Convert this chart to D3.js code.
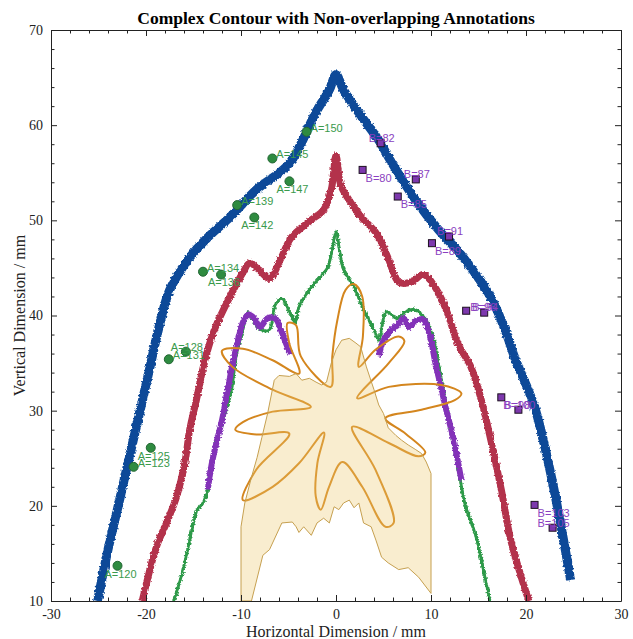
<!DOCTYPE html>
<html>
<head>
<meta charset="utf-8">
<style>
    body { margin: 0; background: #fff; }
    svg { display: block; }
    .tick text { font-family: "Liberation Serif", "Times New Roman", serif; font-size: 14px; fill: #222; }
    .axis path, .axis line { stroke: #222; }
</style>
</head>
<body>
<div id="chart"></div>
<script src="https://cdn.jsdelivr.net/npm/d3@7/dist/d3.min.js"></script>
<script>
    /* -----------------------------------
        data
    ----------------------------------- */
    var xTicks = [-30, -20, -10, 0, 10, 20, 30];
    var yTicks = [10, 20, 30, 40, 50, 60, 70];

    var blueLine = [[-25.1,10],[-24.8,11.5],[-24.0,15.4],[-22.9,20.1],[-21.9,24.5],[-20.6,30.1],[-19.6,34.5],
        [-18.7,38.5],[-17.5,42.7],[-15.4,46.1],[-13.3,48.4],[-11.2,50.3],[-8.4,53.2],[-4.9,56.0],[-2.1,61.4],
        [-0.7,63.7],[0,65.3],[0.8,63.7],[2.4,61.3],[4.5,58.4],[5.9,56.0],[8.4,52.1],[10.8,49.0],[12.9,46.7],
        [14.8,44.2],[16.3,41.9],[17.8,38.5],[18.8,35.6],[20.9,30.4],[22.6,23.4],[23.9,16.7],[24.7,12.2]];

    var redLine = [[-20.4,10],[-18.9,15.7],[-17.8,18.3],[-16.8,20.9],[-15.9,24.6],[-15.4,28.0],[-14.7,31.1],
        [-13.8,35.3],[-12.8,38.5],[-11.2,41.9],[-9.8,44.5],[-9.1,45.5],[-8.1,44.8],[-7.0,43.9],[-5.8,46.0],
        [-4.7,48.2],[-2.8,49.9],[-1.3,51.1],[-0.5,53.2],[0,56.8],[0.5,53.7],[1.4,52.1],[2.7,50.3],[4.2,48.7],
        [5.5,46.0],[6.6,43.5],[7.9,43.5],[9.2,44.3],[10.6,42.7],[11.6,40.6],[12.9,36.9],[14.2,34.6],
        [15.3,31.1],[16.3,26.9],[17.4,21.7],[18.4,16.4],[20.3,10]];

    var greenLine = [[-17.1,10],[-16.4,12.2],[-15.7,15.0],[-15.1,17.8],[-14.6,19.6],[-14.0,20.3],[-13.5,21.7],
        [-13.0,25.1],[-12.5,27.2],[-11.7,29.7],[-11.0,32.2],[-10.5,35.8],[-9.8,38.5],[-9.3,40.3],[-8.6,39.3],
        [-7.9,38.5],[-7.0,38.5],[-6.4,41.1],[-5.7,41.8],[-4.9,40.4],[-4.3,39.3],[-3.9,40.9],[-2.8,42.7],
        [-1.8,43.9],[-0.9,45.0],[-0.4,46.9],[0,48.8],[0.4,46.7],[0.8,44.8],[1.9,43.0],[2.9,40.6],[4.0,38.5],
        [4.5,37.4],[5.3,40.4],[6.4,39.7],[7.3,40.4],[8.4,40.6],[9.3,39.8],[10.3,37.4],[10.8,34.8],[11.3,32.2],
        [12.0,28.5],[12.9,23.8],[13.6,20.1],[14.7,16.9],[15.3,14.3],[16.2,10]];

    var purpleLeft = [[-13.5,21.7],[-13.1,24.3],[-12.6,26.6],[-12.0,29.0],[-11.4,32.2],[-10.8,35.3],[-10.2,37.9],
        [-9.7,39.5],[-9.2,40.1],[-8.6,39.7],[-8.0,38.8],[-7.2,39.7],[-6.4,39.7],[-5.8,38.5],[-5.2,36.9],[-4.8,35.9]];
    var purpleRight = [[4.5,35.7],[5.0,37.4],[5.8,38.5],[6.5,39.0],[7.1,39.7],[7.7,38.8],[8.5,39.5],[9.2,39.6],
        [9.7,38.5],[10.1,36.9],[10.5,34.8],[11.0,32.7],[11.6,30.1],[12.4,26.9],[12.9,24.3],[13.2,22.7]];

    var roseCurve = [[-0.55,32.5],[-0.39,35.7],[0.14,39.5],[1.01,42.7],[1.88,43.3],[2.76,42.0],[2.83,37.8],
        [2.41,34.6],[4.15,36.4],[6.6,37.8],[7.2,37.3],[5.55,35.0],[2.23,31.3],[5.55,32.5],[11.1,32.7],
        [13.2,31.8],[12.5,31.1],[9.0,30.1],[5.2,29.2],[7.3,27.6],[9.4,25.6],[8.7,25.2],[5.55,26.6],[1.7,28.3],
        [4.15,23.8],[6.07,18.2],[5.2,17.8],[2.76,22.0],[0.66,24.6],[-0.73,22.0],[-1.6,19.6],[-2.13,21.0],
        [-1.96,24.5],[-1.26,27.7],[-3.87,24.5],[-6.67,22.0],[-9.8,20.6],[-8.4,23.8],[-4.92,27.6],[-8.4,27.5],
        [-10.6,28.0],[-9.8,28.8],[-6.67,29.9],[-2.65,30.4],[-6.67,32.2],[-10.9,34.6],[-12.0,36.3],[-9.8,36.5],
        [-6.67,35.3],[-3.87,33.9],[-4.92,37.1],[-5.1,39.2],[-4.22,39.0],[-3.7,35.7]];

    var fillShape = [[-10,10],[-10,17.8],[-9.6,20.3],[-8.9,23.0],[-8.3,25.1],[-7.8,27.2],[-7.2,29.7],[-6.5,33.2],
        [-6.0,33.7],[-4.9,33.6],[-4.2,33.9],[-3.6,33.2],[-2.8,33.4],[-2.1,33.0],[-1.5,32.7],[-1.0,33.0],
        [-0.5,35.0],[0,36.4],[0.6,37.4],[1.4,37.6],[2.1,37.1],[2.6,36.7],[3.2,34.6],[4.0,32.2],[4.5,30.6],
        [5.0,29.7],[5.5,28.2],[6.3,27.4],[6.9,26.9],[7.6,26.4],[8.4,25.9],[9.0,25.5],[9.5,24.6],[10,23.4],
        [10,10.8],[8.7,12.5],[7.6,13.5],[6.6,13.3],[5.5,14.0],[4.8,14.6],[4.2,16.4],[3.7,17.8],[2.9,18.2],
        [2.4,20.3],[1.9,19.8],[1.4,20.6],[0.8,20.3],[0.3,19.6],[-0.2,19.9],[-0.7,18.2],[-1.3,18.7],[-2.0,18.2],
        [-2.6,16.9],[-3.4,17.8],[-3.9,17.2],[-4.2,17.8],[-4.6,18.3],[-5.7,18.2],[-7.0,15.4],[-7.7,14.8],[-8.9,10]];

    var aValues = [120, 123, 125, 128, 131, 134, 136, 139, 142, 145, 147, 150];
    var aX = [-23.0, -21.3, -19.5, -15.8, -17.6, -14.0, -12.1, -10.4, -8.6, -6.7, -4.9, -3.1];
    var aY = [13.7, 24.1, 26.1, 36.2, 35.4, 44.6, 44.3, 51.6, 50.3, 56.5, 54.1, 59.3];
    var aSide = ["b", "r", "b", "c", "r", "r", "b", "r", "b", "r", "b", "r"];

    var bValues = [80, 82, 85, 87, 89, 91, 94, 96, 98, 100, 103, 105];
    var bX = [2.8, 4.7, 6.5, 8.4, 10.1, 11.9, 15.6, 13.7, 17.4, 19.2, 20.9, 22.8];
    var bY = [55.3, 58.1, 52.5, 54.3, 47.6, 48.3, 40.3, 40.5, 31.4, 30.1, 20.1, 17.7];
    var bSide = ["rb", "c", "rb", "c", "rb", "c", "c", "r", "rb", "c", "rb", "c"];

    /* -----------------------------------
        initialize
    ----------------------------------- */
    var width = 633, height = 639;
    var margin = {top: 30, right: 12, bottom: 38, left: 51},
        cWidth = width - margin.left - margin.right,
        cHeight = height - margin.top - margin.bottom;

    var svg = d3.select("#chart").append("svg")
        .attr("width", width)
        .attr("height", height);

    var defs = svg.append("defs");
    defs.append("clipPath").attr("id", "plotClip")
        .append("rect").attr("width", cWidth).attr("height", cHeight);

    // rough edges like the noisy contours
    function roughFilter(id, seed, amount) {
        var f = defs.append("filter").attr("id", id)
            .attr("filterUnits", "userSpaceOnUse")
            .attr("x", -20).attr("y", -20).attr("width", cWidth + 40).attr("height", cHeight + 40);
        f.append("feTurbulence").attr("type", "fractalNoise")
            .attr("baseFrequency", "0.45").attr("numOctaves", 2).attr("seed", seed).attr("result", "noise");
        f.append("feDisplacementMap").attr("in", "SourceGraphic").attr("in2", "noise")
            .attr("scale", amount).attr("xChannelSelector", "R").attr("yChannelSelector", "G");
    }
    roughFilter("rough", 4, 3.5);
    roughFilter("rough2", 11, 5);

    var g = svg.append("g")
        .attr("transform", "translate(" + margin.left + "," + margin.top + ")");

    var x = d3.scaleLinear().domain([-30, 30]).range([0, cWidth]);
    var y = d3.scaleLinear().domain([10, 70]).range([cHeight, 0]);

    /* -----------------------------------
        contours
    ----------------------------------- */
    var plot = g.append("g").attr("clip-path", "url(#plotClip)");

    var line = d3.line()
        .x(function(d) { return x(d[0]); })
        .y(function(d) { return y(d[1]); })
        .curve(d3.curveCatmullRom.alpha(0.5));

    function drawLine(data, color, w, filt) {
        plot.append("path")
            .datum(data)
            .attr("d", line)
            .attr("fill", "none")
            .attr("stroke", color)
            .attr("stroke-width", w)
            .attr("stroke-linejoin", "round")
            .attr("filter", "url(#" + (filt || "rough") + ")");
    }

    drawLine(blueLine, "#0d4a98", 9);
    drawLine(redLine, "#b3304b", 7);
    drawLine(greenLine, "#2f9a4a", 2.8);
    drawLine(greenLine, "#2f9a4a", 2.4, "rough2");
    drawLine(purpleLeft, "#8333b8", 6);
    drawLine(purpleRight, "#8333b8", 6);

    plot.append("path")
        .datum(roseCurve)
        .attr("d", d3.line()
            .x(function(d) { return x(d[0]); })
            .y(function(d) { return y(d[1]); })
            .curve(d3.curveCatmullRomClosed.alpha(0.5)))
        .attr("fill", "none")
        .attr("stroke", "#d4861e")
        .attr("stroke-width", 2);

    var area = d3.line()
        .x(function(p) { return x(p[0]); })
        .y(function(p) { return y(p[1]); });

    plot.append("path")
        .datum(fillShape)
        .attr("d", function(d) { return area(d) + "Z"; })
        .attr("fill", "rgba(236,200,110,0.33)")
        .attr("stroke", "#c6a050")
        .attr("stroke-width", 1);

    /* -----------------------------------
        annotations
    ----------------------------------- */
    var offsets = {
        r:  {dx: 4, dy: -4, anchor: "start"},
        b:  {dx: 3, dy: 8, anchor: "middle"},
        c:  {dx: 1, dy: -5, anchor: "middle"},
        rb: {dx: 3, dy: 8, anchor: "start"}
    };

    var aData = aValues.map(function(v, i) { return {v: v, x: aX[i], y: aY[i], s: aSide[i]}; });
    var bData = bValues.map(function(v, i) { return {v: v, x: bX[i], y: bY[i], s: bSide[i]}; });

    g.selectAll(".aDot").data(aData).enter()
        .append("circle")
        .attr("class", "aDot")
        .attr("cx", function(d) { return x(d.x); })
        .attr("cy", function(d) { return y(d.y); })
        .attr("r", 4.5)
        .attr("fill", "#2e8b40")
        .attr("stroke", "#263")
        .attr("stroke-width", 1);

    g.selectAll(".bDot").data(bData).enter()
        .append("rect")
        .attr("class", "bDot")
        .attr("x", function(d) { return x(d.x) - 3.5; })
        .attr("y", function(d) { return y(d.y) - 3.5; })
        .attr("width", 7).attr("height", 7)
        .attr("fill", "#7d38ad")
        .attr("stroke", "#1d1020")
        .attr("stroke-width", 1);

    function drawLabels(data, prefix, color) {
        g.selectAll(".lab" + prefix).data(data).enter()
            .append("text")
            .attr("class", "lab" + prefix)
            .attr("x", function(d) { return x(d.x) + offsets[d.s].dx; })
            .attr("y", function(d) { return y(d.y) + offsets[d.s].dy; })
            .attr("dy", "0.35em")
            .attr("text-anchor", function(d) { return offsets[d.s].anchor; })
            .style("font-family", "'Liberation Sans', Arial, sans-serif")
            .style("font-size", "11px")
            .style("fill", color)
            .text(function(d) { return prefix + "=" + d.v; });
    }
    drawLabels(aData, "A", "#3a9a4c");
    drawLabels(bData, "B", "#8a3fc0");

    /* -----------------------------------
        axes, inward ticks on all sides
    ----------------------------------- */
    var xMinor = d3.range(-30, 31, 2).filter(function(v) { return v % 10 !== 0; });
    var yMinor = d3.range(10, 71, 2).filter(function(v) { return v % 10 !== 0; });
    var fmt = function(d) { return String(d); };

    function axisPair(axisFn, scale, major, minor, labels, transform) {
        var ga = g.append("g").attr("class", "axis").attr("transform", transform);
        ga.call(axisFn(scale).tickValues(minor).tickSize(-3.5).tickFormat(""));
        ga.select(".domain").remove();
        var gb = g.append("g").attr("class", "axis").attr("transform", transform);
        gb.call(axisFn(scale).tickValues(major).tickSizeInner(-6).tickSizeOuter(0)
            .tickPadding(8).tickFormat(labels ? fmt : ""));
        return gb;
    }

    axisPair(d3.axisBottom, x, xTicks, xMinor, true, "translate(0," + cHeight + ")");
    axisPair(d3.axisTop, x, xTicks, xMinor, false, "translate(0,0)");
    axisPair(d3.axisLeft, y, yTicks, yMinor, true, "translate(0,0)");
    axisPair(d3.axisRight, y, yTicks, yMinor, false, "translate(" + cWidth + ",0)");

    g.selectAll(".axis .tick text").attr("fill", "#222");

    /* -----------------------------------
        titles
    ----------------------------------- */
    svg.append("text")
        .attr("x", margin.left + cWidth / 2)
        .attr("y", 24)
        .attr("text-anchor", "middle")
        .style("font-family", "'Liberation Serif', 'Times New Roman', serif")
        .style("font-size", "17.5px")
        .style("font-weight", "bold")
        .text("Complex Contour with Non-overlapping Annotations");

    svg.append("text")
        .attr("x", margin.left + cWidth / 2)
        .attr("y", 637)
        .attr("text-anchor", "middle")
        .style("font-family", "'Liberation Serif', 'Times New Roman', serif")
        .style("font-size", "16px")
        .style("fill", "#222")
        .text("Horizontal Dimension / mm");

    svg.append("text")
        .attr("transform", "translate(25," + (margin.top + cHeight / 2) + ") rotate(-90)")
        .attr("text-anchor", "middle")
        .style("font-family", "'Liberation Serif', 'Times New Roman', serif")
        .style("font-size", "16px")
        .style("fill", "#222")
        .text("Vertical Dimension / mm");
</script>
</body>
</html>
